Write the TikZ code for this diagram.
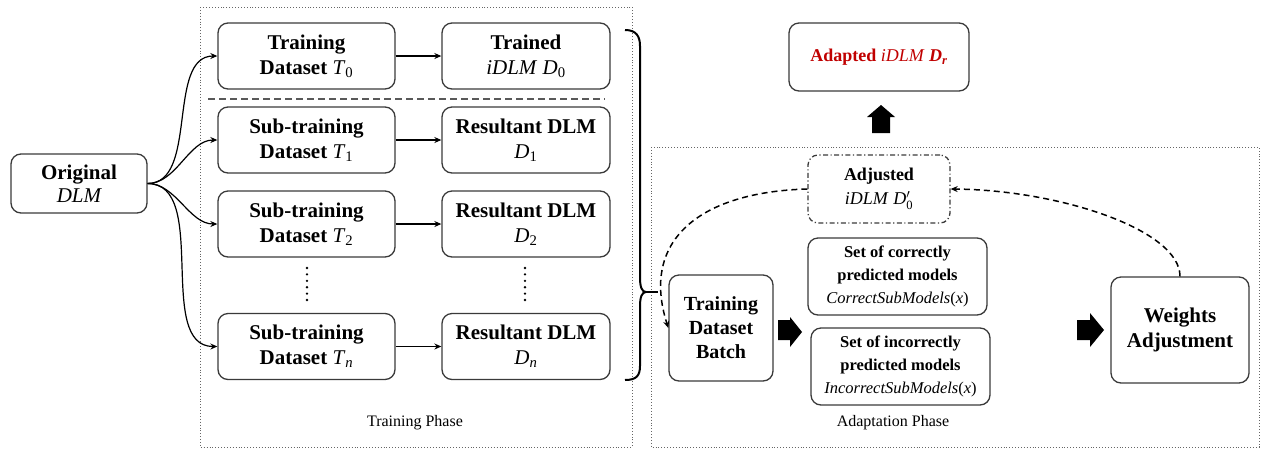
\RequirePackage{fix-cm}
\documentclass[tikz,border=0pt]{standalone}
\usepackage{amsmath}
\usepackage{fontspec}
\setmainfont{Liberation Serif}[BoldFont={Liberation Serif Bold},ItalicFont={Liberation Serif Italic},BoldItalicFont={Liberation Serif Bold Italic}]
\usetikzlibrary{arrows.meta,calc}
\definecolor{boxline}{HTML}{3A3A3A}
\definecolor{adred}{HTML}{C00000}
\newcommand{\isub}[2]{\textit{#1}\ensuremath{_{\text{#2}}}}
\begin{document}
\begin{tikzpicture}[x=1pt,y=-1pt,
  box/.style={draw=boxline,line width=1.3pt,rounded corners=10pt,align=center,inner sep=0pt,
    font=\fontsize{21}{25}\selectfont\bfseries},
  lbox/.style={box,minimum width=177pt,minimum height=66pt},
  rbox/.style={box,minimum width=168pt,minimum height=66pt},
  sbox/.style={box,minimum width=179pt,minimum height=77pt,font=\fontsize{16.5}{23}\selectfont\bfseries},
  phase/.style={draw=gray!80!black,line width=0.9pt,dotted},
  conn/.style={line width=1.2pt,-{Stealth[length=7pt,width=6pt]}},
  dconn/.style={line width=1.5pt,dash pattern=on 6pt off 4pt,-{Stealth[length=7pt,width=6pt]}},
  vdots/.style={line width=2.6pt,line cap=round,dash pattern=on 0pt off 6.4pt},
  blockarrow/.style={fill=black}
]
\useasboundingbox (0,0) rectangle (1261,451);

% phase frames
\draw[phase] (200,7) rectangle (632,447);
\draw[phase] (651,147) rectangle (1259,447);
\node[font=\fontsize{16}{19}\selectfont] (tp) at (415,423) {Training Phase};
\node[font=\fontsize{16}{19}\selectfont] (ap) at (893,423) {Adaptation Phase};

% nodes
\node[box,minimum width=136pt,minimum height=59pt] (orig) at (79,183.5) {Original\\[-2pt]\mdseries\itshape DLM};
\node[lbox] (t0) at (306.5,56) {Training\\Dataset {\mdseries\isub{T}{0}}};
\node[lbox] (t1) at (306.5,140) {Sub-training\\Dataset {\mdseries\isub{T}{1}}};
\node[lbox] (t2) at (306.5,224) {Sub-training\\Dataset {\mdseries\isub{T}{2}}};
\node[lbox] (tn) at (306.5,346.5) {Sub-training\\Dataset {\mdseries\isub{T}{\itshape n}}};
\node[rbox] (d0) at (526,56) {Trained\\\mdseries\textit{iDLM} \isub{D}{0}};
\node[rbox] (d1) at (526,140) {Resultant DLM\\\mdseries\isub{D}{1}};
\node[rbox] (d2) at (526,224) {Resultant DLM\\\mdseries\isub{D}{2}};
\node[rbox] (dn) at (526,346.5) {Resultant DLM\\\mdseries\isub{D}{\itshape n}};

\node[box,minimum width=180pt,minimum height=68pt,text=adred,font=\fontsize{18}{22}\selectfont\bfseries] (adapted) at (879,57) {Adapted \mdseries\textit{iDLM} \bfseries\isub{D}{\bfseries\itshape r}};
\node[box,minimum width=142pt,minimum height=68pt,font=\fontsize{18}{24}\selectfont\bfseries,
  dash pattern=on 5pt off 2.5pt on 1.2pt off 2.5pt] (adj) at (879,189) {Adjusted\\\mdseries\textit{iDLM} \textit{D}\ensuremath{'_{\text{0}}}};
\node[box,minimum width=104pt,minimum height=106pt,font=\fontsize{20}{24}\selectfont\bfseries] (batch) at (721,328) {Training\\Dataset\\Batch};
\node[sbox] (corr) at (897.5,276.5) {Set of correctly\\predicted models\\\mdseries\itshape CorrectSubModels\upshape(\itshape x\upshape)};
\node[sbox] (incorr) at (900.5,366.5) {Set of incorrectly\\predicted models\\\mdseries\itshape IncorrectSubModels\upshape(\itshape x\upshape)};
\node[box,minimum width=138pt,minimum height=106pt,font=\fontsize{21}{25}\selectfont\bfseries] (weights) at (1180,330) {Weights\\Adjustment};

% connectors from Original
\foreach \t in {t0,t1,t2,tn}{
  \draw[conn] (orig.east) to[out=0,in=180,looseness=0.9] (\t.west);
}
\draw[conn] (t0) -- (d0);
\draw[conn] (t1) -- (d1);
\draw[conn] (t2) -- (d2);
\draw[conn] (tn) -- (dn);

% separator
\draw[line width=2pt,gray!70!black,dash pattern=on 7pt off 4pt] (208,99) -- (605,99);

% vertical dots
\draw[vdots] (307,268) -- (307,300);
\draw[vdots] (525,268) -- (525,300);

% brace
\coordinate (btip) at (646,292);
\coordinate (bend) at (658,292);
\draw[line width=2pt,line join=round]
  (625,30) .. controls (636,30) and (640,36) .. (640,46) -- (640,278)
  .. controls (640,287) and (642,292) .. (btip)
  .. controls (642,292) and (640,297) .. (640,306) -- (640,366)
  .. controls (640,376) and (636,380) .. (625,380);
\draw[line width=1.5pt] (btip) -- (bend);

% dashed loop
\draw[dconn] (adj.west) .. controls (700,192) and (640,240) .. (batch.west);
\draw[dconn] (weights.north) .. controls (1180,230) and (1060,190) .. (adj.east);

% block arrows
\fill[blockarrow] (778,320) -- (790,320) -- (790,317) -- (802,332) -- (790,347) -- (790,340) -- (778,340) -- cycle;
\fill[blockarrow] (1077,320) -- (1090,320) -- (1090,313) -- (1104,330) -- (1090,347) -- (1090,340) -- (1077,340) -- cycle;
\fill[blockarrow] (872,133) -- (872,117) -- (867,117) -- (881,105) -- (895,117) -- (890,117) -- (890,133) -- cycle;
\end{tikzpicture}
\end{document}
